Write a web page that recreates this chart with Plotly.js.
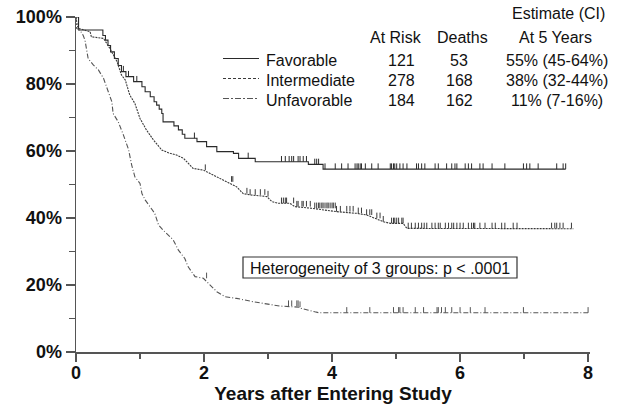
<!DOCTYPE html>
<html><head><meta charset="utf-8">
<script src="https://cdn.plot.ly/plotly-3.0.1.min.js"></script>
<style>html,body{margin:0;padding:0;background:#fff}#c{width:630px;height:411px}</style>
</head><body><div id="c"></div>
<script>
// ---- data (years, survival %) ----
const favT = [0,0.04,0.42,0.46,0.50,0.54,0.60,0.66,0.71,0.78,0.90,1.03,1.08,1.16,1.22,1.26,1.30,1.34,1.36,1.53,1.60,1.66,1.70,1.89,2.04,2.20,2.46,2.54,2.80,3.63,3.86,7.65];
const favS = [100,96.1,94.5,93.1,91.5,89.6,87.6,85.5,83.7,82.2,80.7,79.2,77.7,76.2,74.7,73.7,72.5,71.2,68.7,67.5,66.3,65.0,63.8,62.8,61.3,59.8,59.3,57.8,56.8,56.0,54.6,54.6];
const favCens = [0.74,0.82,0.95,1.85,2.69,3.21,3.27,3.33,3.37,3.40,3.47,3.50,3.55,3.60,3.73,3.76,3.79,3.89,4.05,4.15,4.25,4.36,4.39,4.41,4.44,4.46,4.52,4.62,4.72,4.91,4.93,4.96,4.98,5.01,5.06,5.11,5.17,5.32,5.35,5.40,5.45,5.61,5.66,5.79,5.87,5.92,5.95,6.08,6.13,6.18,6.31,6.36,6.50,6.70,6.99,7.04,7.09,7.22,7.51,7.61,7.65];

const intT = [0,0.02,0.04,0.22,0.24,0.43,0.53,0.64,0.71,0.77,0.84,0.92,1.00,1.10,1.21,1.34,1.47,1.57,1.68,1.73,1.83,1.99,2.15,2.35,2.51,2.61,2.72,2.98,3.06,3.16,3.34,3.42,3.68,4.07,4.38,4.54,4.67,4.80,4.91,5.11,5.17,7.77];
const intS = [100,97.5,96.6,95.6,94.1,93.6,90.6,86.7,82.7,81.2,76.7,74.2,69.7,66.3,63.3,60.3,59.3,58.8,57.8,56.8,54.8,54.3,52.8,50.8,49.3,47.3,46.9,46.4,44.9,44.4,44.4,43.4,42.9,41.9,41.4,40.9,39.9,38.9,38.4,38.4,36.9,36.8];
const intCens = [2.02,2.43,2.45,2.67,2.72,2.80,2.88,2.95,3.00,3.21,3.24,3.27,3.29,3.40,3.45,3.47,3.53,3.55,3.60,3.66,3.73,3.76,3.79,3.81,3.84,3.86,3.89,3.92,3.94,3.97,4.00,4.02,4.05,4.07,4.13,4.23,4.28,4.33,4.41,4.46,4.54,4.59,4.62,4.70,4.75,4.80,4.93,4.96,4.98,5.01,5.04,5.09,5.11,5.19,5.24,5.30,5.35,5.40,5.44,5.48,5.56,5.61,5.66,5.69,5.77,5.82,5.87,5.90,5.95,6.00,6.05,6.13,6.18,6.21,6.23,6.31,6.39,6.50,6.55,6.65,6.70,6.83,6.89,7.43,7.48,7.51,7.56,7.61,7.74];

const unfT = [0,0.01,0.06,0.11,0.14,0.17,0.19,0.27,0.35,0.43,0.50,0.56,0.58,0.66,0.74,0.82,0.87,0.92,1.00,1.03,1.08,1.16,1.23,1.29,1.36,1.47,1.52,1.60,1.70,1.75,1.86,1.99,2.09,2.20,2.33,2.51,2.77,2.93,3.08,3.19,3.50,3.52,3.73,3.80,8.00];
const unfS = [100,96.6,96.1,94.6,93.1,89.6,87.6,85.7,84.2,81.7,78.2,74.7,71.2,68.7,64.8,60.5,55.8,52.3,50.3,47.3,45.4,43.4,41.4,37.9,36.4,34.4,33.4,30.4,27.9,25.5,22.5,22.0,20.0,18.0,16.5,16.0,15.0,14.5,14.0,13.7,13.4,13.0,12.0,11.7,11.7];
const unfCens = [2.04,3.32,3.37,3.45,3.47,3.50,4.23,4.59,4.96,5.04,5.06,5.11,5.30,5.43,5.64,5.66,5.71,5.77,5.87,6.00,6.16,6.39,6.99,8.00];

const groups = ['Favorable','Intermediate','Unfavorable'];
const atRisk = ['121','278','184'];
const deaths = ['53','168','162'];
const est5 = ['55% (45-64%)','38% (32-44%)','11% (7-16%)'];
const xTicks = [0,2,4,6,8];
const yTicks = [0,20,40,60,80,100];
const yTickText = ['0%','20%','40%','60%','80%','100%'];

// ---- helpers ----
function valueAt(T,S,t){let v=S[0];for(let i=0;i<T.length;i++){if(T[i]<=t+1e-9)v=S[i];else break;}return v;}
function censorTrace(T,S,C,color){
  const x=[],y=[];
  C.forEach(t=>{const v=valueAt(T,S,t);x.push(t,t,null);y.push(v,v+1.7,null);});
  return {x,y,mode:'lines',type:'scatter',line:{color,width:1},hoverinfo:'skip',showlegend:false,cliponaxis:false};
}
const cFav='#2a2a2a', cInt='#3a3a3a', cUnf='#555555';
const traces = [
  {x:favT,y:favS,mode:'lines',type:'scatter',line:{color:cFav,width:1.1,shape:'hv'},showlegend:false,cliponaxis:false},
  {x:intT,y:intS,mode:'lines',type:'scatter',line:{color:cInt,width:1.1,dash:'2px,1px'},showlegend:false,cliponaxis:false},
  {x:unfT,y:unfS,mode:'lines',type:'scatter',line:{color:cUnf,width:1.1,dash:'5px,2px,1px,2px'},showlegend:false,cliponaxis:false},
  censorTrace(favT,favS,favCens,cFav),
  censorTrace(intT,intS,intCens,cInt),
  censorTrace(unfT,unfS,unfCens,cUnf)
];

// pixel -> paper
const L=76,T0=17,W=514,H=335;
const px=x=>(x-L)/W, py=y=>(T0+H-y)/H;
const font={family:'Liberation Sans, Arial, sans-serif',size:16,color:'#111'};
const ann=[];
function txt(text,x,y,anchor){ann.push({text,xref:'paper',yref:'paper',x:px(x),y:py(y),xanchor:anchor||'center',yanchor:'middle',showarrow:false,font});}
txt('Estimate (CI)',558,13);
txt('At Risk',396,38);
txt('Deaths',462,38);
txt('At 5 Years',555,38);
const rowY=[60,80,100];
const legDash=['solid','3px,2px','6px,2px,2px,2px'];
const legCol=[cFav,cInt,cUnf];
const shapes=[];
groups.forEach((g,i)=>{
  txt(g,264,rowY[i],'left');
  txt(atRisk[i],401,rowY[i]);
  txt(deaths[i],459,rowY[i]);
  txt(est5[i],557,rowY[i]);
  shapes.push({type:'line',xref:'paper',yref:'paper',x0:px(223),x1:px(259),y0:py(rowY[i]-1.5),y1:py(rowY[i]-1.5),line:{color:legCol[i],width:1.1,dash:legDash[i]}});
});
shapes.push({type:'rect',xref:'paper',yref:'paper',x0:px(243),x1:px(517),y0:py(278),y1:py(257),line:{color:'#333',width:1.2},fillcolor:'rgba(0,0,0,0)'});
txt('Heterogeneity of 3 groups: p < .0001',380,268);

const bold={family:'Liberation Sans, Arial, sans-serif',size:18,color:'#111',weight:700};
const layout={
  width:630,height:411,margin:{l:L,r:630-L-W,t:T0,b:411-T0-H},
  paper_bgcolor:'#fff',plot_bgcolor:'#fff',showlegend:false,
  xaxis:{range:[0,8.03],tickvals:xTicks,ticks:'outside',ticklen:8,tickwidth:1.5,tickcolor:'#555',ticklabelstandoff:-4,
    showline:true,linecolor:'#555',linewidth:1.5,showgrid:false,zeroline:false,tickfont:bold,
    minor:{tickvals:[1,3,5,7],ticks:'outside',ticklen:5,tickwidth:1.5,tickcolor:'#555',showgrid:false},
    title:{text:'Years after Entering Study',font:{family:'Liberation Sans, Arial, sans-serif',size:19,color:'#111',weight:700},standoff:2},
    fixedrange:true},
  yaxis:{range:[0,100],tickvals:yTicks,ticktext:yTickText,ticks:'outside',ticklen:9,tickwidth:1.5,tickcolor:'#555',
    showline:true,linecolor:'#555',linewidth:1.5,showgrid:false,zeroline:false,tickfont:bold,
    minor:{tickvals:[10,30,50,70,90],ticks:'outside',ticklen:6,tickwidth:1.5,tickcolor:'#555',showgrid:false},
    fixedrange:true},
  annotations:ann,shapes:shapes
};
Plotly.newPlot('c',traces,layout,{displayModeBar:false,staticPlot:true});
</script></body></html>
